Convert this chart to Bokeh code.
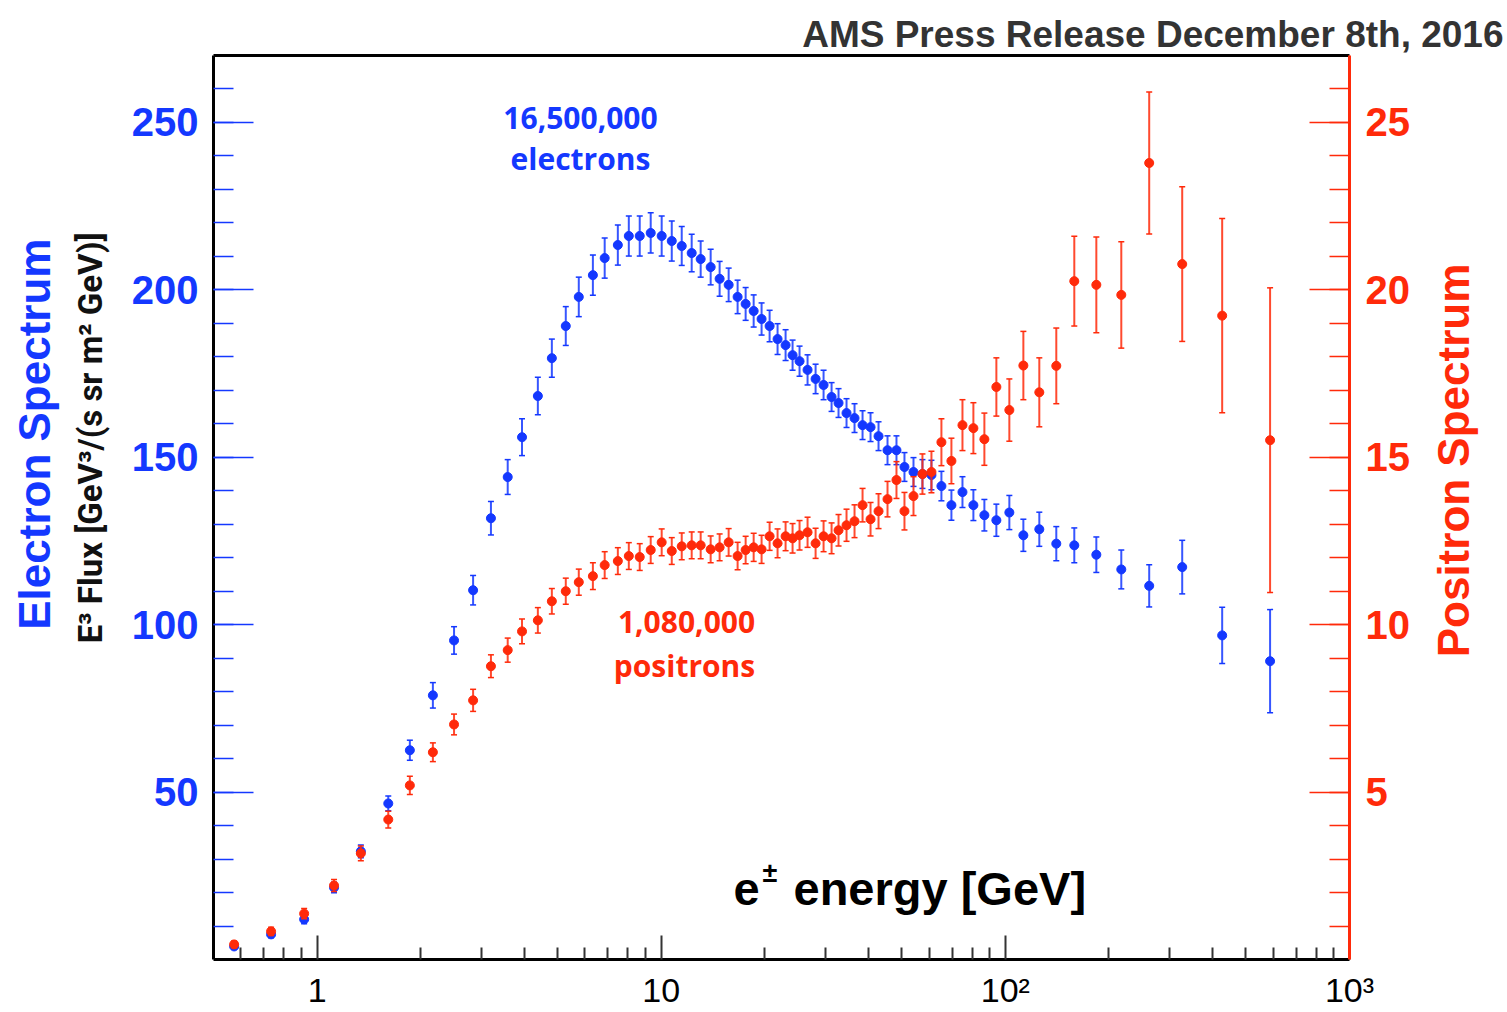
import math
from bokeh.plotting import figure
from bokeh.models import (ColumnDataSource, LinearAxis, Range1d, FixedTicker, Label)
from bokeh.embed import file_html
from bokeh.resources import INLINE

# ---------------- data ----------------
energy = [0.574, 0.735, 0.917, 1.12, 1.34, 1.61, 1.86, 2.17, 2.50, 2.84,
          3.20, 3.58, 3.94, 4.38, 4.81, 5.28, 5.76, 6.33, 6.85, 7.48,
          8.05, 8.66, 9.32, 10.03, 10.73, 11.47, 12.26, 13.02, 13.92, 14.78,
          15.70, 16.67, 17.59, 18.56, 19.57, 20.65, 21.78, 22.98, 24.08, 25.23,
          26.62, 28.09, 29.63, 31.26, 32.75, 34.55, 36.45, 38.46, 40.57, 42.80,
          45.45, 48.26, 50.91, 54.08, 57.42, 60.98, 65.19, 69.70, 75.05, 80.74,
          86.90, 94.16, 102.7, 112.8, 125.5, 140.6, 158.6, 183.8, 217.2, 261.8,
          326.5, 426.6, 587.8]

electron_flux = [3.9, 7.5, 12.0, 21.5, 32.3, 46.6, 62.5, 78.9, 95.3, 110.3,
                 131.8, 144.1, 156.0, 168.3, 179.6, 189.2, 197.9, 204.4, 209.5, 213.4,
                 216.1, 216.1, 217.0, 216.1, 214.6, 213.1, 211.0, 209.2, 206.8, 203.3,
                 201.5, 197.9, 195.8, 193.7, 191.3, 189.2, 185.3, 183.5, 180.5, 178.7,
                 176.1, 173.4, 171.6, 168.0, 166.2, 163.2, 161.7, 159.6, 159.0, 156.3,
                 152.1, 152.1, 147.1, 145.6, 145.0, 144.7, 141.4, 135.7, 139.6, 135.7,
                 132.7, 131.2, 133.5, 126.7, 128.5, 124.2, 123.7, 120.9, 116.5, 111.6,
                 117.2, 96.8, 89.1]

electron_err = [0.8, 1.0, 1.3, 1.6, 1.9, 2.2, 3.0, 3.8, 4.1, 4.4,
                5.0, 5.2, 5.5, 5.6, 5.7, 5.8, 5.9, 6.0, 6.0, 6.0,
                6.0, 6.0, 6.0, 6.0, 6.0, 5.8, 5.6, 5.4, 5.3, 5.2,
                5.0, 5.0, 4.9, 4.8, 4.8, 4.7, 4.6, 4.6, 4.5, 4.5,
                4.5, 4.4, 4.4, 4.3, 4.3, 4.3, 4.3, 4.3, 4.3, 4.3,
                4.3, 4.3, 4.3, 4.3, 4.3, 4.4, 4.4, 4.5, 4.6, 4.6,
                4.7, 4.8, 5.1, 4.8, 5.1, 5.1, 5.2, 5.3, 5.8, 6.3,
                8.0, 8.4, 15.4]

positron_flux = [0.45, 0.84, 1.37, 2.21, 3.17, 4.18, 5.20, 6.19, 7.02, 7.74,
                 8.76, 9.24, 9.80, 10.13, 10.70, 11.00, 11.27, 11.45, 11.78, 11.90,
                 12.05, 12.02, 12.23, 12.46, 12.20, 12.34, 12.37, 12.37, 12.25, 12.31,
                 12.46, 12.05, 12.23, 12.31, 12.25, 12.64, 12.43, 12.64, 12.58, 12.67,
                 12.76, 12.43, 12.64, 12.58, 12.82, 12.97, 13.09, 13.57, 13.15, 13.39,
                 13.75, 14.32, 13.39, 13.84, 14.50, 14.56, 15.45, 14.89, 15.96, 15.87,
                 15.54, 17.10, 16.41, 17.74, 16.94, 17.73, 20.26, 20.15, 19.85, 23.79,
                 20.77, 19.23, 15.51]

positron_err = [0.10, 0.12, 0.15, 0.18, 0.22, 0.25, 0.27, 0.28, 0.31, 0.33,
                0.34, 0.36, 0.37, 0.38, 0.38, 0.39, 0.39, 0.40, 0.40, 0.40,
                0.40, 0.40, 0.40, 0.40, 0.40, 0.40, 0.40, 0.40, 0.40, 0.40,
                0.41, 0.41, 0.41, 0.42, 0.42, 0.42, 0.43, 0.43, 0.44, 0.44,
                0.45, 0.45, 0.46, 0.46, 0.47, 0.48, 0.49, 0.50, 0.50, 0.52,
                0.53, 0.55, 0.56, 0.58, 0.60, 0.62, 0.70, 0.68, 0.76, 0.76,
                0.78, 0.87, 0.93, 1.02, 1.03, 1.13, 1.34, 1.43, 1.59, 2.12,
                2.31, 2.90, 4.55]

x_major_ticks = [1, 10, 100, 1000]
x_tick_labels = {1: "1", 10: "10", 100: "10\u00b2", 1000: "10\u00b3"}
x_minor_ticks = [0.6, 0.7, 0.8, 0.9, 2, 3, 4, 5, 6, 7, 8, 9,
                 20, 30, 40, 50, 60, 70, 80, 90,
                 200, 300, 400, 500, 600, 700, 800, 900]
left_major_ticks = [50, 100, 150, 200, 250]
left_minor_ticks = list(range(10, 270, 10))
right_major_ticks = [5, 10, 15, 20, 25]
right_minor_ticks = list(range(1, 27))

BLUE = "#1438ff"
RED = "#ff2a0a"
FONT = "Liberation Sans"
NBSP = "\u00a0"
THIN = "\u2009"

# ---------------- figure ----------------
W, H = 1507, 1012
FL, FB = 213, 959          # frame left / bottom in page pixels
p = figure(width=W, height=H, x_axis_type="log",
           x_range=Range1d(0.5, 1000), y_range=Range1d(0, 270),
           output_backend="svg", toolbar_location=None,
           min_border_left=213, min_border_right=158,
           min_border_top=55, min_border_bottom=53)
p.extra_y_ranges = {"pos": Range1d(0, 27)}
p.xgrid.visible = False
p.ygrid.visible = False
p.outline_line_color = None
p.background_fill_color = "white"
p.border_fill_color = "white"

p.title.text = "AMS Press Release December 8th, 2016"
p.title.align = "right"
p.title.offset = -154
p.title.standoff = 2
p.title.text_font = FONT
p.title.text_font_style = "bold"
p.title.text_font_size = "37px"
p.title.text_color = "#333333"

# bottom (log) axis
xa = p.xaxis[0]
xa.ticker = FixedTicker(ticks=x_major_ticks, minor_ticks=x_minor_ticks)
xa.major_label_overrides = x_tick_labels
xa.major_tick_in = 24
xa.major_tick_out = 0
xa.minor_tick_in = 12
xa.minor_tick_out = 0
xa.major_tick_line_color = "#333333"
xa.minor_tick_line_color = "#333333"
xa.major_tick_line_width = 2
xa.minor_tick_line_width = 2
xa.axis_line_color = "black"
xa.axis_line_width = 3
xa.major_label_text_font = FONT
xa.major_label_text_font_size = "34px"
xa.major_label_text_color = "black"
xa.major_label_standoff = 11

# left axis
ya = p.yaxis[0]
ya.ticker = FixedTicker(ticks=left_major_ticks, minor_ticks=left_minor_ticks)
ya.major_tick_in = 40
ya.major_tick_out = 0
ya.minor_tick_in = 20
ya.minor_tick_out = 0
ya.major_tick_line_color = BLUE
ya.minor_tick_line_color = BLUE
ya.major_tick_line_width = 1.5
ya.minor_tick_line_width = 1.5
ya.axis_line_color = "black"
ya.axis_line_width = 3
ya.major_label_text_font = FONT
ya.major_label_text_font_style = "bold"
ya.major_label_text_font_size = "40px"
ya.major_label_text_color = BLUE
ya.major_label_standoff = 15

# right axis (positrons)
ra = LinearAxis(y_range_name="pos",
                ticker=FixedTicker(ticks=right_major_ticks, minor_ticks=right_minor_ticks))
ra.major_tick_in = 40
ra.major_tick_out = 0
ra.minor_tick_in = 20
ra.minor_tick_out = 0
ra.major_tick_line_color = RED
ra.minor_tick_line_color = RED
ra.major_tick_line_width = 1.5
ra.minor_tick_line_width = 1.5
ra.axis_line_color = RED
ra.axis_line_width = 3
ra.major_label_text_font = FONT
ra.major_label_text_font_style = "bold"
ra.major_label_text_font_size = "40px"
ra.major_label_text_color = RED
ra.major_label_standoff = 16
p.add_layout(ra, "right")

# top frame line
ta = LinearAxis(ticker=FixedTicker(ticks=[]), major_tick_in=0, major_tick_out=0,
                minor_tick_in=0, minor_tick_out=0, major_label_text_font_size="0px",
                major_label_standoff=0, axis_line_color="black", axis_line_width=3)
p.add_layout(ta, "above")

# label-only axes carrying the side titles
def label_axis(text, standoff, font, size, color, rng="default", orientation=None):
    ax = LinearAxis(ticker=FixedTicker(ticks=[]), y_range_name=rng,
                    major_tick_in=0, major_tick_out=0, minor_tick_in=0, minor_tick_out=0,
                    major_label_text_font_size="0px", major_label_standoff=0,
                    axis_line_color=None, axis_label=text,
                    axis_label_standoff=standoff, axis_label_text_font=font,
                    axis_label_text_font_size=size, axis_label_text_color=color,
                    axis_label_text_font_style="bold")
    if orientation is not None:
        ax.axis_label_orientation = orientation
    return ax

# leading no-break spaces lift the visible text above the anchor point
e3 = label_axis(NBSP * 17 + "E\u00b3 Flux [GeV\u00b3/(s sr m\u00b2 GeV)]", 19, "Roboto",
                "33px", "#111111")
p.add_layout(e3, "left")
el = label_axis(NBSP * 12 + "Electron Spectrum", 9, FONT, "44px", BLUE)
p.add_layout(el, "left")

pos_text = "Positron Spectrum"
pa = label_axis(pos_text, 41, FONT, "44px", RED, rng="pos", orientation=math.pi / 2)
if "axis_label_align" in pa.properties():
    pa.axis_label_align = "start"
    pa.axis_label = NBSP * 24 + THIN + pos_text
p.add_layout(pa, "right")

# ---------------- data glyphs ----------------
e_src = ColumnDataSource(dict(
    x=energy, y=electron_flux,
    lo=[f - e for f, e in zip(electron_flux, electron_err)],
    hi=[f + e for f, e in zip(electron_flux, electron_err)]))
p_src = ColumnDataSource(dict(
    x=energy, y=positron_flux,
    lo=[f - e for f, e in zip(positron_flux, positron_err)],
    hi=[f + e for f, e in zip(positron_flux, positron_err)]))

for src, col, rng in [(e_src, BLUE, "default"), (p_src, RED, "pos")]:
    p.segment(x0="x", y0="lo", x1="x", y1="hi", source=src, line_color=col,
              line_width=2, line_alpha=0.85, y_range_name=rng)
    p.scatter(x="x", y="hi", marker="dash", size=6, line_color=col, line_width=1.5,
              source=src, y_range_name=rng)
    p.scatter(x="x", y="lo", marker="dash", size=6, line_color=col, line_width=1.5,
              source=src, y_range_name=rng)
    p.scatter(x="x", y="y", marker="circle", size=9, fill_color=col, line_color=col,
              source=src, y_range_name=rng)

# ---------------- in-frame texts (screen units relative to the frame) ----------------
def scr(text, x_img, y_img, **kw):
    return Label(x=x_img - FL, y=FB - y_img, x_units="screen", y_units="screen",
                 text=text, **kw)

p.add_layout(scr("16,500,000", 580, 117, text_align="center", text_baseline="middle",
                 text_font="Open Sans", text_font_style="bold", text_font_size="30px",
                 text_color=BLUE))
p.add_layout(scr("electrons", 580, 158, text_align="center", text_baseline="middle",
                 text_font="Open Sans", text_font_style="bold", text_font_size="30px",
                 text_color=BLUE))
p.add_layout(scr("1,080,000", 686, 621, text_align="center", text_baseline="middle",
                 text_font="Open Sans", text_font_style="bold", text_font_size="30px",
                 text_color=RED))
p.add_layout(scr("positrons", 684, 665, text_align="center", text_baseline="middle",
                 text_font="Open Sans", text_font_style="bold", text_font_size="30px",
                 text_color=RED))
p.add_layout(scr("e", 733, 888, text_align="left", text_baseline="middle",
                 text_font=FONT, text_font_style="bold", text_font_size="47px",
                 text_color="black"))
p.add_layout(scr("\u00b1", 762, 872, text_align="left", text_baseline="middle",
                 text_font=FONT, text_font_style="bold", text_font_size="27px",
                 text_color="black"))
p.add_layout(scr("energy [GeV]", 793, 888, text_align="left", text_baseline="middle",
                 text_font=FONT, text_font_style="bold", text_font_size="47px",
                 text_color="black"))

open("out.html", "w").write(file_html(p, INLINE))
